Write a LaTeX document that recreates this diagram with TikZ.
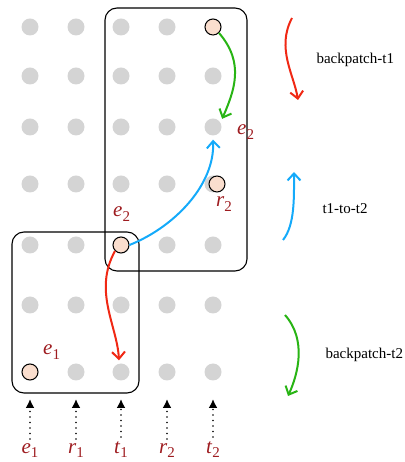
\documentclass[tikz,border=0pt]{standalone}
\usepackage{fontspec}
\setmainfont{Liberation Serif}
\usetikzlibrary{arrows.meta,positioning,calc}
\definecolor{dotgray}{RGB}{212,212,212}
\definecolor{peach}{RGB}{250,222,206}
\definecolor{lblred}{RGB}{158,28,32}
\definecolor{penred}{RGB}{240,40,20}
\definecolor{pengreen}{RGB}{40,180,20}
\definecolor{penblue}{RGB}{20,170,250}
\newcommand{\slot}[2]{\textit{#1}\raisebox{-0.22em}{\fontsize{15}{15}\selectfont #2}}

\begin{document}
\begin{tikzpicture}[x=1pt,y=1pt]
\tikzset{dot/.style={circle,fill=dotgray,inner sep=0pt,minimum size=17pt}}
\tikzset{hit/.style={circle,draw,fill=peach,inner sep=0pt,minimum size=16pt,line width=1pt}}
\tikzset{lbl/.style={text=lblred,inner sep=1pt,font=\fontsize{21}{24}\selectfont}}
\tikzset{pen/.style={line width=2pt,-{Straight Barb[length=7pt,width=13pt,line width=2pt]}}}
\tikzset{group/.style={draw,line width=1.1pt,rounded corners=12pt}}
\tikzset{legend/.style={font=\fontsize{15}{18}\selectfont,anchor=west}}
\useasboundingbox (0,0) rectangle (404,462);

% grid of dots
\foreach \c/\x in {1/30,2/76,3/121,4/167,5/213}
  \foreach \r/\y in {1/435,2/386,3/335,4/278,5/217,6/157,7/90}
    \node[dot] (d-\c-\r) at (\x,\y) {};

% the marked dots
\node[hit] (h51) at (d-5-1) {};
\node[hit] (h54) at (217,278) {};
\node[hit] (h35) at (d-3-5) {};
\node[hit] (h17) at (d-1-7) {};

% the two groups
\draw[group] (105,454) rectangle (247,191);
\draw[group] (12,230) rectangle (139,69);

% labels at the dots
\node[lbl,anchor=base west] (e2a) at (236,327) {\slot{e}{2}};
\node[lbl,anchor=base west] (r2a) at (215,255) {\slot{r}{2}};
\node[lbl,anchor=base west] (e2b) at (112,245) {\slot{e}{2}};
\node[lbl,anchor=base west] (e1a) at (42,107) {\slot{e}{1}};

% pointers
\foreach \c/\x/\t in {1/30/e1,2/76/r1,3/121/t1,4/167/r2,5/213/t2}{
  \node[lbl,anchor=base] (l-\c) at (\x,9) {\expandafter\slot\t};
  \coordinate (p-\c) at (\x,63);
  \draw[line width=1.8pt,dash pattern=on 0pt off 5.5pt,line cap=round,
        -{Latex[length=9pt,width=9pt]}] ([yshift=3pt]l-\c.north) -- (p-\c);
}

% moves
\draw[pen,pengreen] (h51.south east) .. controls +(26,-30) and +(12,28) .. ($(d-5-3.north east)+(3,2)$);
\draw[pen,penblue] (h35.east) .. controls +(45,18) and +(2,-45) .. ($(d-5-3.south)+(0,-4)$);
\draw[pen,penred] (h35.south west) .. controls +(-22,-40) and +(-2,35) .. ($(d-3-7.north)+(-2,3)$);

% legend
\coordinate (ra) at (292,444);
\coordinate (rb) at (298,362);
\draw[pen,penred] (ra) .. controls +(-16,-30) and +(-4,25) .. (rb);
\node[legend] (bt1) at (313,402) {backpatch-t1};
\coordinate (ba) at (283,222);
\coordinate (bb) at (294,290);
\draw[pen,penblue] (ba) .. controls +(12,15) and +(0,-25) .. (bb);
\node[legend] (tt) at (319,253) {t1-to-t2};
\coordinate (ga) at (285,147);
\coordinate (gb) at (288,66);
\draw[pen,pengreen] (ga) .. controls +(22,-25) and +(10,22) .. (gb);
\node[legend] (bt2) at (322,107) {backpatch-t2};
\end{tikzpicture}
\end{document}
